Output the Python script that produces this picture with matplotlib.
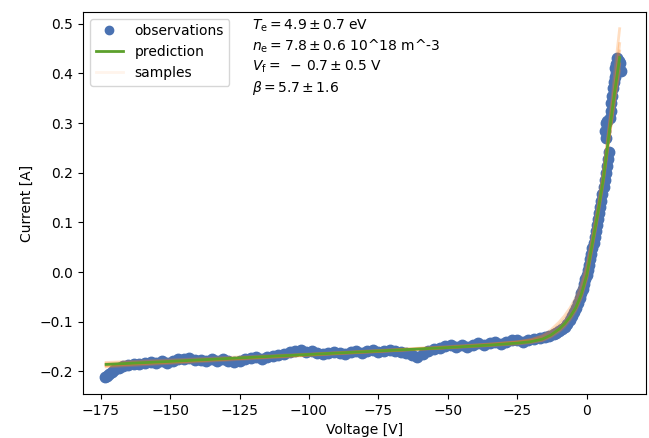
import numpy as np
import matplotlib
matplotlib.use('Agg')
import matplotlib.pyplot as plt
from matplotlib.lines import Line2D

obs_v = [-173.5, -172.8, -172.0, -171.0, -170.0, -168.5, -167.0, -165.0, -163.0, -161.0,
         -159.0, -157.0, -155.0, -153.0, -151.0, -149.0, -147.0, -145.0, -143.0, -141.0,
         -139.0, -137.0, -135.0, -133.0, -131.0, -129.0, -127.0, -125.0, -123.0, -121.0,
         -119.0, -117.0, -115.0, -113.0, -111.0, -109.0, -107.0, -105.0, -103.0, -101.0,
         -99.0, -97.0, -95.0, -93.0, -91.0, -89.0, -87.0, -85.0, -83.0, -81.0,
         -79.0, -77.0, -75.0, -73.0, -71.0, -69.0, -67.0, -65.0, -63.0, -61.0,
         -59.0, -57.0, -55.0, -53.0, -51.0, -49.0, -47.0, -45.0, -43.0, -41.0,
         -39.0, -37.0, -35.0, -33.0, -31.0, -29.0, -27.0, -25.0, -23.0, -21.0,
         -19.0, -17.0, -15.0, -13.5, -12.0, -11.0, -10.0, -9.0, -8.0, -7.0,
         -6.0, -5.2, -4.5, -3.8, -3.2, -2.6, -2.0, -1.5, -1.0, -0.5,
         0.0, 0.4, 0.8, 1.2, 1.6, 2.0, 2.4, 2.8, 3.2, 3.6,
         4.0, 4.4, 4.8, 5.2, 5.6, 6.0, 6.4, 6.8, 7.2, 7.6,
         8.0, 7.0, 6.6, 6.8, 7.4, 8.2, 8.6, 8.8, 9.2, 9.4,
         9.6, 10.0, 10.4, 10.0, 10.6, 11.2, 11.6, 11.0, 12.0, 12.4]
obs_i = [-0.212, -0.209, -0.205, -0.201, -0.197, -0.193, -0.190, -0.188, -0.185, -0.186,
         -0.183, -0.181, -0.184, -0.180, -0.183, -0.179, -0.176, -0.175, -0.174, -0.178,
         -0.177, -0.180, -0.176, -0.179, -0.176, -0.179, -0.181, -0.180, -0.176, -0.173,
         -0.172, -0.175, -0.171, -0.170, -0.168, -0.166, -0.162, -0.159, -0.157, -0.161,
         -0.160, -0.163, -0.166, -0.163, -0.161, -0.164, -0.166, -0.162, -0.160, -0.163,
         -0.160, -0.157, -0.161, -0.158, -0.156, -0.159, -0.161, -0.164, -0.167, -0.171,
         -0.165, -0.158, -0.155, -0.153, -0.149, -0.147, -0.150, -0.147, -0.150, -0.146,
         -0.143, -0.147, -0.143, -0.140, -0.144, -0.140, -0.137, -0.136, -0.140, -0.137,
         -0.135, -0.133, -0.131, -0.128, -0.125, -0.122, -0.119, -0.115, -0.110, -0.104,
         -0.097, -0.089, -0.081, -0.072, -0.063, -0.053, -0.043, -0.034, -0.025, -0.015,
         -0.005, 0.005, 0.015, 0.026, 0.037, 0.048, 0.058, 0.070, 0.082, 0.094,
         0.106, 0.118, 0.130, 0.144, 0.158, 0.172, 0.186, 0.200, 0.213, 0.228,
         0.242, 0.270, 0.285, 0.300, 0.305, 0.310, 0.325, 0.340, 0.355, 0.370,
         0.383, 0.392, 0.400, 0.410, 0.418, 0.412, 0.425, 0.432, 0.420, 0.405]

# fitted curve and posterior sample curves
fit_v = [-173, -150, -125, -100, -75, -50, -35, -25, -20, -16, -13, -10,
         -8, -6, -4, -2, 0, 2, 4, 6, 8, 10, 11.8]
fit_i = [-0.186, -0.180, -0.173, -0.166, -0.159, -0.152, -0.147, -0.143, -0.140, -0.135, -0.127, -0.115,
         -0.104, -0.090, -0.072, -0.045, -0.005, 0.058, 0.120, 0.190, 0.278, 0.362, 0.432]

samples = [
    [-0.182, -0.177, -0.171, -0.165, -0.158, -0.151, -0.145, -0.140, -0.136, -0.130, -0.121, -0.107,
     -0.095, -0.080, -0.061, -0.033, 0.008, 0.070, 0.134, 0.205, 0.290, 0.375, 0.445],
    [-0.191, -0.184, -0.176, -0.168, -0.160, -0.153, -0.148, -0.145, -0.142, -0.138, -0.131, -0.120,
     -0.110, -0.096, -0.078, -0.052, -0.013, 0.050, 0.112, 0.182, 0.268, 0.352, 0.420],
    [-0.188, -0.181, -0.174, -0.167, -0.160, -0.152, -0.147, -0.142, -0.139, -0.134, -0.126, -0.113,
     -0.102, -0.088, -0.070, -0.044, -0.006, 0.055, 0.120, 0.198, 0.295, 0.400, 0.490],
    [-0.184, -0.179, -0.173, -0.166, -0.159, -0.152, -0.148, -0.144, -0.141, -0.137, -0.129, -0.117,
     -0.106, -0.092, -0.073, -0.046, -0.004, 0.060, 0.122, 0.188, 0.270, 0.350, 0.418],
    [-0.187, -0.181, -0.174, -0.167, -0.160, -0.152, -0.146, -0.141, -0.136, -0.128, -0.117, -0.101,
     -0.088, -0.072, -0.052, -0.024, 0.014, 0.070, 0.128, 0.192, 0.268, 0.345, 0.405],
    [-0.189, -0.182, -0.174, -0.166, -0.158, -0.150, -0.145, -0.141, -0.138, -0.134, -0.127, -0.116,
     -0.105, -0.091, -0.074, -0.048, -0.010, 0.052, 0.116, 0.186, 0.280, 0.372, 0.460],
]

params = [r'$T_\mathrm{e} = 4.9 \pm 0.7$ eV',
          r'$n_\mathrm{e} = 7.8 \pm 0.6$ 10^18 m^-3',
          r'$V_\mathrm{f} =\ -\,0.7 \pm 0.5$ V',
          r'$\beta = 5.7 \pm 1.6$']

blue = '#4a72b2'
green = '#5ca02c'
orange = '#ff7f0e'

fig = plt.figure(figsize=(6.49, 4.38), dpi=100)
ax = fig.add_axes([0.128, 0.100, 0.867, 0.873])

ax.plot(obs_v, obs_i, 'o', color=blue, markersize=7.5)
for s in samples:
    ax.plot(fit_v, s, color=orange, alpha=0.25, lw=2)
ax.plot(fit_v, fit_i, color=green, lw=2)

handles = [Line2D([], [], ls='none', marker='o', color=blue, markersize=6),
           Line2D([], [], color=green, lw=2),
           Line2D([], [], color=orange, lw=2, alpha=0.08)]
ax.legend(handles, ['observations', 'prediction', 'samples'], loc='upper left')

ax.text(0.300, 0.985, '\n'.join(params), transform=ax.transAxes, va='top', ha='left',
        linespacing=1.3)

ax.set_xlim(-181.3, 21.2)
ax.set_ylim(-0.246, 0.524)
ax.set_xlabel('Voltage [V]')
ax.set_ylabel('Current [A]')

fig.savefig('out.png', dpi=100)
